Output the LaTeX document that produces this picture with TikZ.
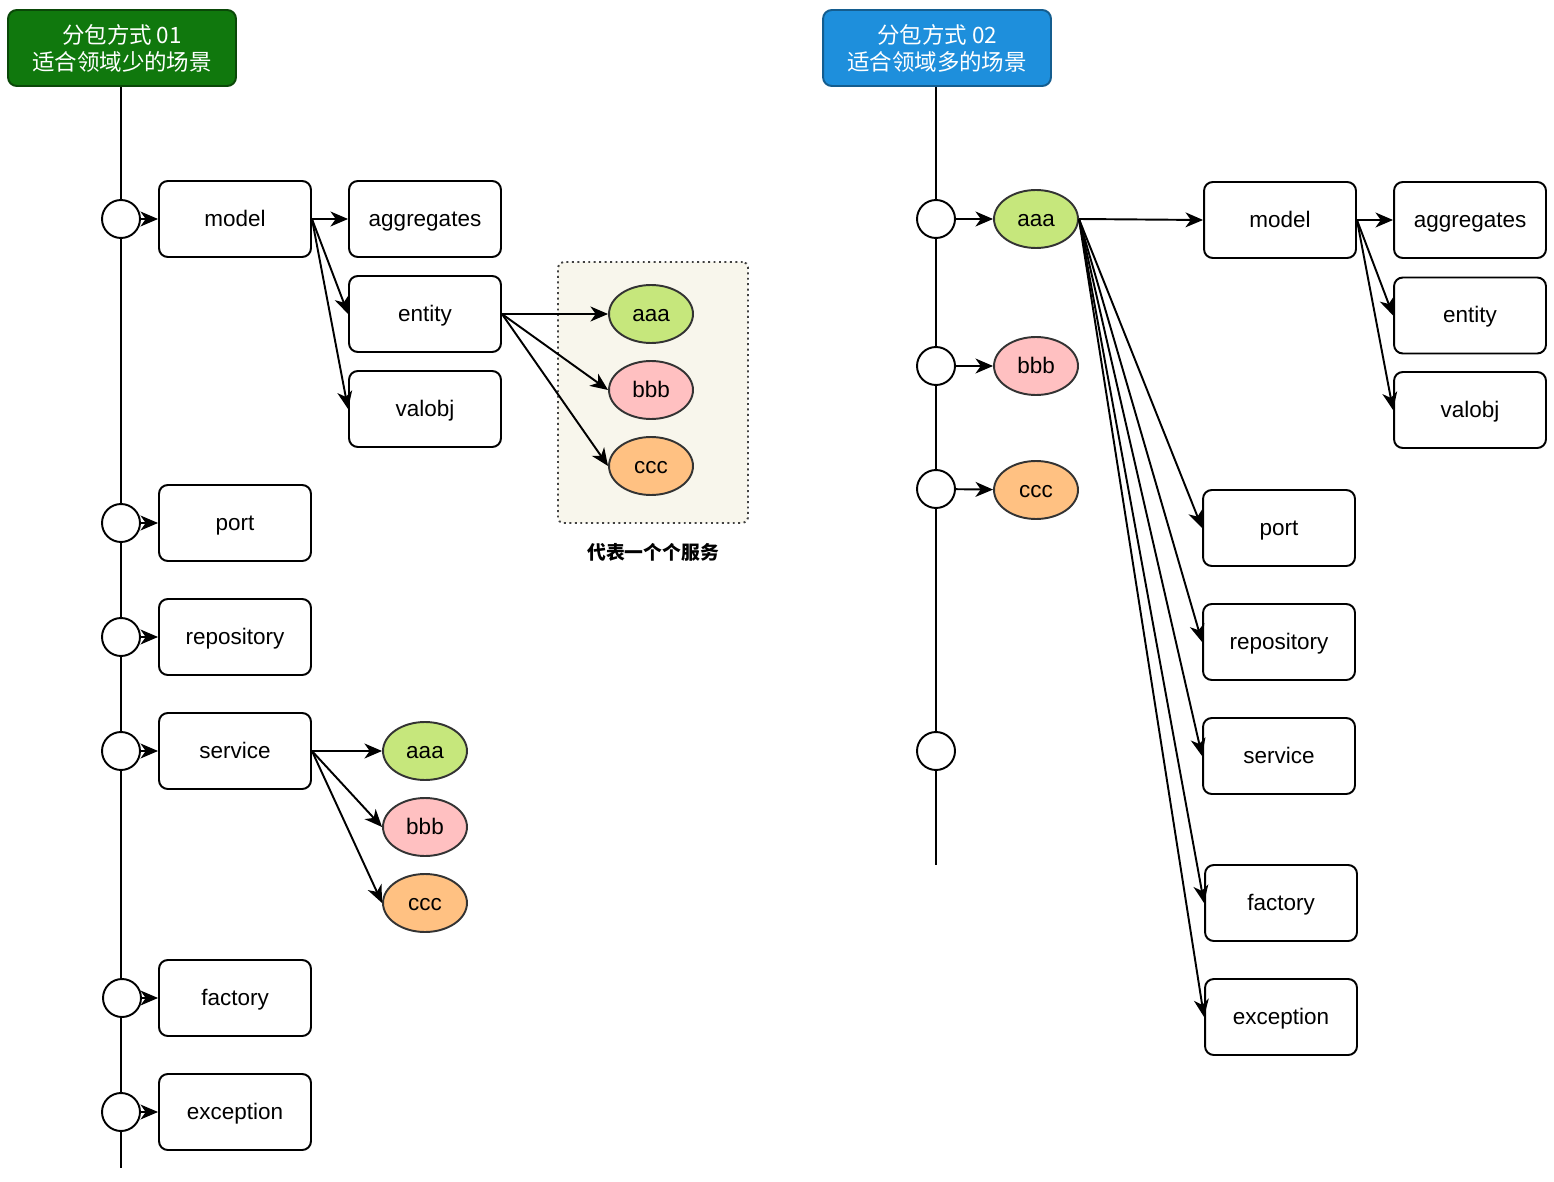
\documentclass[tikz,border=0pt]{standalone}
\usepackage{fontspec}
\setmainfont{Liberation Sans}
\newfontfamily\cjk{Noto Sans CJK SC}
\usetikzlibrary{arrows.meta,positioning,shapes.geometric}

\definecolor{hdgreen}{HTML}{10780D}
\definecolor{hdblue}{HTML}{1E8FDC}
\definecolor{svcaaa}{HTML}{C6E77C}
\definecolor{svcbbb}{HTML}{FFC0C1}
\definecolor{svcccc}{HTML}{FFC182}
\definecolor{svcbg}{HTML}{F8F6EC}

\begin{document}
\begin{tikzpicture}[x=0.02cm, y=-0.02cm, semithick, line width=1.1pt,
    >={Stealth[length=10pt,width=8.5pt,inset=3pt]},
    every node/.style={font=\fontsize{12.8}{15.5}\selectfont},
    header/.style={draw, rounded corners=5pt, minimum width=4.56cm, minimum height=1.52cm,
        text=white, align=center, font=\cjk\fontsize{12.8}{15.3}\selectfont},
    pkg/.style={draw, rounded corners=5pt, minimum width=3.04cm, minimum height=1.52cm,
        text height=0.92em, text depth=0.1em},
    svc/.style={ellipse, draw=black!80, minimum width=1.68cm, minimum height=1.16cm,
        text height=0.92em, text depth=0.1em},
    hole/.style={circle, draw, fill=white, minimum size=0.76cm, inner sep=0pt}
    ]
\useasboundingbox (0,0) rectangle (1554,1182);

% ---- 分包方式 01 ----
\node[header, fill=hdgreen, draw=hdgreen!60!black] (hd1) at (122,48) {分包方式 01\\适合领域少的场景};
\coordinate (end1) at (121,1168);
\draw (121,87) -- (end1);

\node[hole] (l1) at (121,219)  {};
\node[hole] (l2) at (121,523)  {};
\node[hole] (l3) at (121,637)  {};
\node[hole] (l4) at (121,751)  {};
\node[hole] (l5) at (122,998)  {};
\node[hole] (l6) at (121,1112) {};

\node[pkg] (lmodel) at (235,219)  {model};
\node[pkg] (lagg)   at (425,219)  {aggregates};
\node[pkg] (lent)   at (425,314)  {entity};
\node[pkg] (lval)   at (425,409)  {valobj};
\node[pkg] (lport)  at (235,523)  {port};
\node[pkg] (lrepo)  at (235,637)  {repository};
\node[pkg] (lserv)  at (235,751)  {service};
\node[pkg] (lfact)  at (235,998)  {factory};
\node[pkg] (lexc)   at (235,1112) {exception};

% services group
\node[draw=black!75, dotted, fill=svcbg, rounded corners=3pt,
      minimum width=3.8cm, minimum height=5.22cm] (grp) at (653,392.5) {};
\node[below=0.26cm of grp, font=\cjk\bfseries\fontsize{10.7}{12}\selectfont] (grplbl) {代表一个个服务};
\node[svc, fill=svcaaa] (ga) at (651,314) {aaa};
\node[svc, fill=svcbbb] (gb) at (651,390) {bbb};
\node[svc, fill=svcccc] (gc) at (651,466) {ccc};

\node[svc, fill=svcaaa] (sa) at (425,751) {aaa};
\node[svc, fill=svcbbb] (sb) at (425,827) {bbb};
\node[svc, fill=svcccc] (sc) at (425,903) {ccc};

\path[->]
(l1) edge (lmodel)
(l2) edge (lport)
(l3) edge (lrepo)
(l4) edge (lserv)
(l5) edge (lfact)
(l6) edge (lexc)
(lmodel.east) edge (lagg.west)
(lmodel.east) edge (lent.west)
(lmodel.east) edge (lval.west)
(lent.east) edge (ga.west)
(lent.east) edge (gb.west)
(lent.east) edge (gc.west)
(lserv.east) edge (sa.west)
(lserv.east) edge (sb.west)
(lserv.east) edge (sc.west)
;

% ---- 分包方式 02 ----
\node[header, fill=hdblue, draw=hdblue!65!black] (hd2) at (937,48) {分包方式 02\\适合领域多的场景};
\coordinate (end2) at (936,865);
\draw (936,87) -- (end2);

\node[hole] (r1) at (936,219) {};
\node[hole] (r2) at (936,366) {};
\node[hole] (r3) at (936,489) {};
\node[hole] (r4) at (936,751) {};

\node[svc, fill=svcaaa] (ra) at (1036,219) {aaa};
\node[svc, fill=svcbbb] (rb) at (1036,366) {bbb};
\node[svc, fill=svcccc] (rc) at (1036,490) {ccc};

\node[pkg] (rmodel) at (1280,220)   {model};
\node[pkg] (ragg)   at (1470,220)   {aggregates};
\node[pkg] (rent)   at (1470,315.5) {entity};
\node[pkg] (rval)   at (1470,410)   {valobj};
\node[pkg] (rport)  at (1279,528)   {port};
\node[pkg] (rrepo)  at (1279,642)   {repository};
\node[pkg] (rserv)  at (1279,756)   {service};
\node[pkg] (rfact)  at (1281,903)   {factory};
\node[pkg] (rexc)   at (1281,1017)  {exception};

\path[->]
(r1) edge (ra)
(r2) edge (rb)
(r3) edge (rc)
(ra.east) edge (rmodel.west)
(ra.east) edge (rport.west)
(ra.east) edge (rrepo.west)
(ra.east) edge (rserv.west)
(ra.east) edge (rfact.west)
(ra.east) edge (rexc.west)
(rmodel.east) edge (ragg.west)
(rmodel.east) edge (rent.west)
(rmodel.east) edge (rval.west)
;
\end{tikzpicture}
\end{document}
